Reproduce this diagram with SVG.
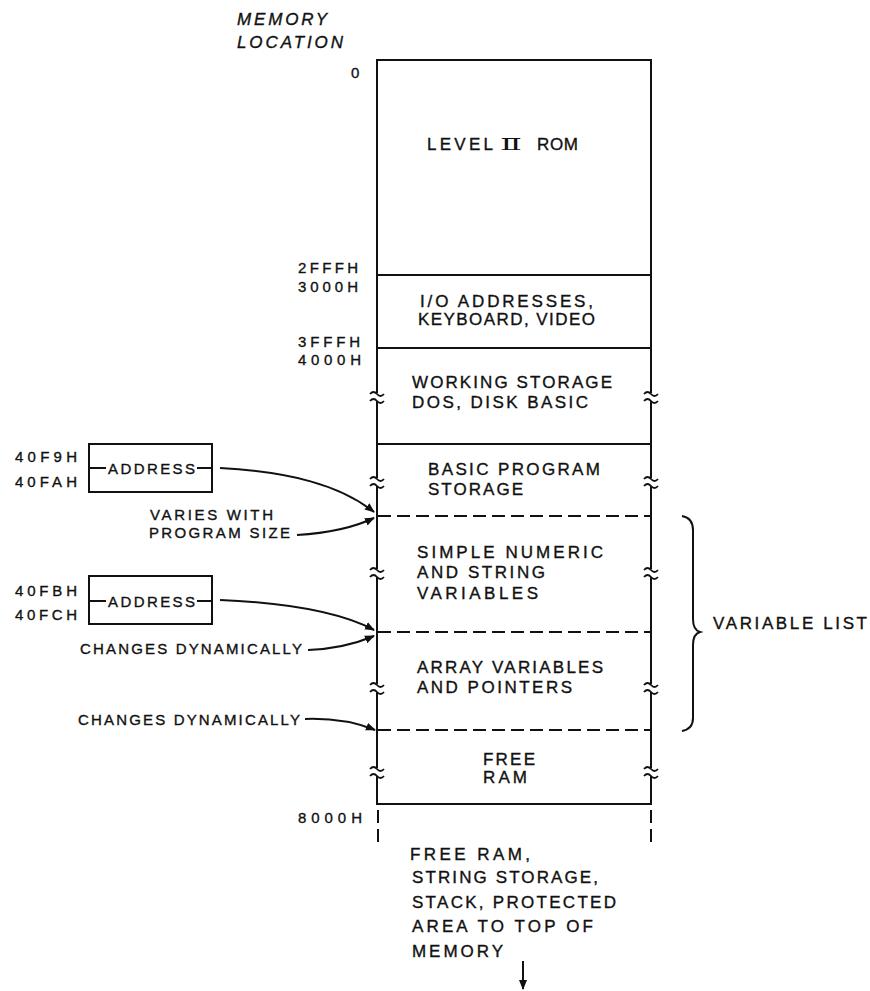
<svg xmlns="http://www.w3.org/2000/svg" width="870" height="991" viewBox="0 0 870 991">
<defs>
<style>
text{font-family:"Liberation Sans",Arial,sans-serif;font-size:17px;fill:#111;stroke:#111;stroke-width:0.35}
.s{font-size:15px}
.it{font-style:italic;font-size:17px}
.rn{font-family:"DejaVu Serif","Liberation Serif",serif;font-size:17px;stroke:none}
.ln{stroke:#111;stroke-width:2;fill:none}
.dash{stroke:#111;stroke-width:2;fill:none;stroke-dasharray:13 6}
.brk{stroke:#111;stroke-width:1.8;fill:none}
.gap{fill:#fff}
</style>
<marker id="ah" viewBox="0 0 10 10" refX="9" refY="5" markerWidth="10" markerHeight="10" markerUnits="userSpaceOnUse" orient="auto">
<path d="M0,1 L10,5 L0,9 z" fill="#111"/>
</marker>
<g id="brkmark">
<rect class="gap" x="-8" y="-4" width="16" height="8"/>
<path class="brk" d="M-7,-3 q3.5,-4 7,0 t7,0"/>
<path class="brk" d="M-7,4 q3.5,-4 7,0 t7,0"/>
</g>
</defs>
<rect width="870" height="991" fill="#fff"/>

<g id="header">
<text class="it" x="237" y="25" textLength="90" lengthAdjust="spacing">MEMORY</text>
<text class="it" x="237" y="48" textLength="106" lengthAdjust="spacing">LOCATION</text>
</g>

<g id="addr-labels">
<text class="s" x="351" y="78">0</text>
<text class="s" x="298" y="273" textLength="60" lengthAdjust="spacing">2FFFH</text>
<text class="s" x="298" y="292" textLength="60" lengthAdjust="spacing">3000H</text>
<text class="s" x="298" y="347" textLength="62" lengthAdjust="spacing">3FFFH</text>
<text class="s" x="298" y="365" textLength="63" lengthAdjust="spacing">4000H</text>
<text class="s" x="298" y="823" textLength="64" lengthAdjust="spacing">8000H</text>
</g>

<g id="memory-map">
<rect class="ln" x="377" y="60" width="274" height="744"/>
<line class="ln" x1="377" y1="275" x2="651" y2="275"/>
<line class="ln" x1="377" y1="348" x2="651" y2="348"/>
<line class="ln" x1="377" y1="444" x2="651" y2="444"/>
<line class="dash" x1="378" y1="516" x2="651" y2="516"/>
<line class="dash" x1="378" y1="632" x2="651" y2="632"/>
<line class="dash" x1="378" y1="730" x2="651" y2="730"/>
<line class="dash" x1="378" y1="810" x2="378" y2="846" stroke-dasharray="10 6"/>
<line class="dash" x1="651" y1="810" x2="651" y2="846" stroke-dasharray="10 6"/>
<use href="#brkmark" x="377" y="397"/>
<use href="#brkmark" x="651" y="397"/>
<use href="#brkmark" x="377" y="482"/>
<use href="#brkmark" x="651" y="482"/>
<use href="#brkmark" x="377" y="573"/>
<use href="#brkmark" x="651" y="573"/>
<use href="#brkmark" x="377" y="688"/>
<use href="#brkmark" x="651" y="688"/>
<use href="#brkmark" x="377" y="772"/>
<use href="#brkmark" x="651" y="772"/>
</g>

<g id="rom">
<text x="427" y="150" textLength="66" lengthAdjust="spacing">LEVEL</text>
<text class="rn" x="500" y="150" textLength="22" lengthAdjust="spacingAndGlyphs">Ⅱ</text>
<text x="537" y="150" textLength="41" lengthAdjust="spacing">ROM</text>
</g>
<g id="io"><text x="420" y="307" textLength="173" lengthAdjust="spacing">I/O ADDRESSES,</text><text x="418" y="325" textLength="177" lengthAdjust="spacing">KEYBOARD, VIDEO</text></g>
<g id="working"><text x="412" y="388" textLength="200" lengthAdjust="spacing">WORKING STORAGE</text><text x="412" y="408" textLength="176" lengthAdjust="spacing">DOS, DISK BASIC</text></g>
<g id="basic"><text x="428" y="475" textLength="172" lengthAdjust="spacing">BASIC PROGRAM</text><text x="428" y="495" textLength="95" lengthAdjust="spacing">STORAGE</text></g>
<g id="simple"><text x="417" y="558" textLength="186" lengthAdjust="spacing">SIMPLE NUMERIC</text><text x="417" y="578" textLength="128" lengthAdjust="spacing">AND STRING</text><text x="417" y="599" textLength="121" lengthAdjust="spacing">VARIABLES</text></g>
<g id="array"><text x="417" y="673" textLength="186" lengthAdjust="spacing">ARRAY VARIABLES</text><text x="417" y="693" textLength="155" lengthAdjust="spacing">AND POINTERS</text></g>
<g id="free"><text x="483" y="765" textLength="52" lengthAdjust="spacing">FREE</text><text x="483" y="783" textLength="44" lengthAdjust="spacing">RAM</text></g>
<g id="top-note">
<text x="410" y="860" textLength="120" lengthAdjust="spacing">FREE RAM,</text>
<text x="412" y="883" textLength="186" lengthAdjust="spacing">STRING STORAGE,</text>
<text x="412" y="908" textLength="204" lengthAdjust="spacing">STACK, PROTECTED</text>
<text x="412" y="932" textLength="181" lengthAdjust="spacing">AREA TO TOP OF</text>
<text x="412" y="957" textLength="91" lengthAdjust="spacing">MEMORY</text>
</g>

<g id="address1">
<text class="s" x="15" y="462" textLength="62" lengthAdjust="spacing">40F9H</text>
<text class="s" x="15" y="487" textLength="62" lengthAdjust="spacing">40FAH</text>
<rect class="ln" x="89" y="444" width="123" height="48"/>
<line class="ln" x1="89" y1="468" x2="106" y2="468"/>
<line class="ln" x1="197" y1="468" x2="212" y2="468"/>
<text class="s" x="108" y="474" textLength="87" lengthAdjust="spacing">ADDRESS</text>
</g>
<g id="address2">
<text class="s" x="15" y="596" textLength="62" lengthAdjust="spacing">40FBH</text>
<text class="s" x="15" y="620" textLength="62" lengthAdjust="spacing">40FCH</text>
<rect class="ln" x="89" y="576" width="123" height="48"/>
<line class="ln" x1="89" y1="601" x2="106" y2="601"/>
<line class="ln" x1="197" y1="601" x2="212" y2="601"/>
<text class="s" x="108" y="607" textLength="87" lengthAdjust="spacing">ADDRESS</text>
</g>

<g id="notes">
<text class="s" x="150" y="520" textLength="123" lengthAdjust="spacing">VARIES WITH</text>
<text class="s" x="149" y="538" textLength="141" lengthAdjust="spacing">PROGRAM SIZE</text>
<text class="s" x="80" y="654" textLength="222" lengthAdjust="spacing">CHANGES DYNAMICALLY</text>
<text class="s" x="78" y="725" textLength="222" lengthAdjust="spacing">CHANGES DYNAMICALLY</text>
</g>

<g id="variable-list">
<path class="ln" d="M682,516 Q693,518 693,530 L693,619 Q693,630 700,632 Q693,634 693,645 L693,718 Q693,729 682,731"/>
<text x="713" y="629" textLength="154" lengthAdjust="spacing">VARIABLE LIST</text>
</g>

<g id="connectors">
<path class="ln" stroke-width="1.6" d="M220,468 C290,472 340,485 374,512" marker-end="url(#ah)"/>
<path class="ln" stroke-width="1.6" d="M297,535 C330,533 355,527 374,518" marker-end="url(#ah)"/>
<path class="ln" stroke-width="1.6" d="M220,600 C290,603 340,612 374,630" marker-end="url(#ah)"/>
<path class="ln" stroke-width="1.6" d="M308,650 C335,649 355,644 374,636" marker-end="url(#ah)"/>
<path class="ln" stroke-width="1.6" d="M305,719 C335,718 355,722 375,730" marker-end="url(#ah)"/>
<line class="ln" x1="523" y1="961" x2="523" y2="989" marker-end="url(#ah)"/>
</g>
</svg>
